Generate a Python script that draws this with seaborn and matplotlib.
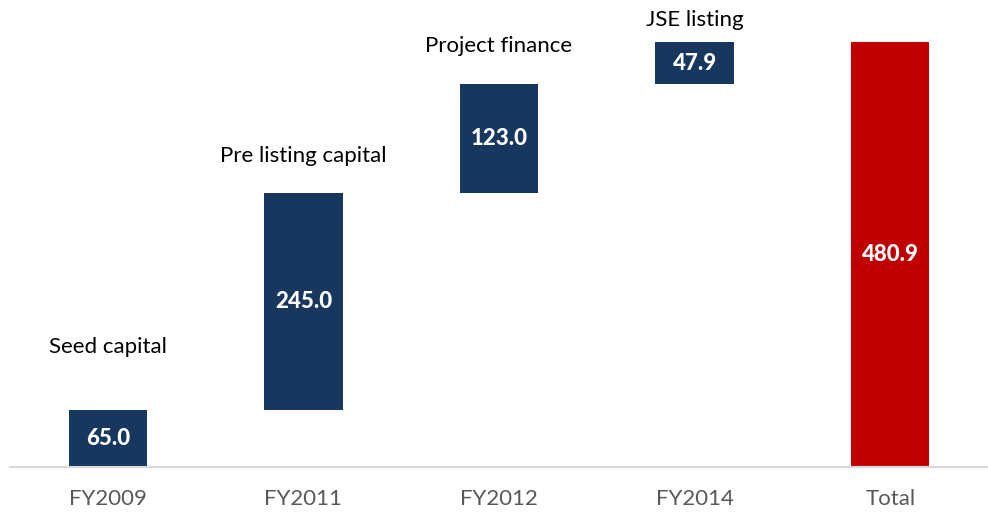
import matplotlib
matplotlib.use('Agg')
import matplotlib.pyplot as plt
import seaborn as sns

# data
categories = ['FY2009', 'FY2011', 'FY2012', 'FY2014', 'Total']
stage_labels = ['Seed capital', 'Pre listing capital', 'Project finance', 'JSE listing', '']
values = [65.0, 245.0, 123.0, 47.9, 480.9]
bottoms = [0.0, 65.0, 310.0, 433.0, 0.0]

navy = '#17375E'
red = '#C00000'
colors = [navy, navy, navy, navy, red]

sns.set_style('white')
plt.rcParams['font.family'] = ['Lato', 'DejaVu Sans']

fig = plt.figure(figsize=(9.88, 5.13), dpi=100)
ax = fig.add_axes([10 / 988, 46 / 513, 978 / 988, 467 / 513])

sns.barplot(x=categories, y=values, bottom=bottoms, color=navy,
            width=0.4, ax=ax, saturation=1, linewidth=0)
for patch, c in zip(ax.patches, colors):
    patch.set_facecolor(c)

# value labels inside the bars
for i, (v, b) in enumerate(zip(values, bottoms)):
    ax.text(i, b + v / 2, f'{v:.1f}', ha='center', va='center',
            color='white', fontsize=16, fontweight='black')

# stage labels above the bars
gaps = [63, 37, 38, 22, 0]
for i, (lab, v, b) in enumerate(zip(stage_labels, values, bottoms)):
    if lab:
        ax.annotate(lab, (i, b + v), xytext=(0, gaps[i]), textcoords='offset pixels',
                    ha='center', va='center', fontsize=16, color='black')

ax.set_xlim(-0.5, 4.5)
ax.set_ylim(0, 467 / 0.884)
ax.set_yticks([])
ax.set_ylabel('')
for s in ['top', 'right', 'left']:
    ax.spines[s].set_visible(False)
ax.spines['bottom'].set_color('#D9D9D9')
ax.spines['bottom'].set_linewidth(1.5)
ax.tick_params(axis='x', length=0, labelsize=16, labelcolor='#595959', pad=16)

fig.savefig('out.png', dpi=100)
